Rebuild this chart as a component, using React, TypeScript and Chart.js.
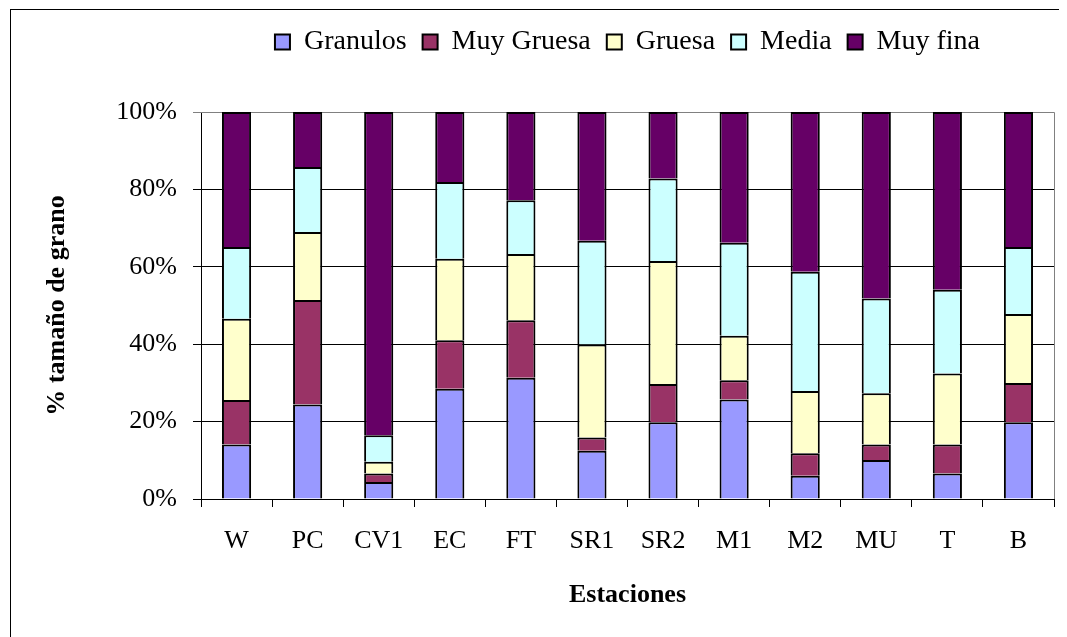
import React, { useEffect, useRef } from 'react';
import { Chart, registerables } from 'chart.js';

Chart.register(...registerables);

const categories = ['W', 'PC', 'CV1', 'EC', 'FT', 'SR1', 'SR2', 'M1', 'M2', 'MU', 'T', 'B'];
const granulos = [14.1, 24.4, 4.4, 28.5, 31.3, 12.5, 19.8, 25.7, 6.0, 10.1, 6.6, 19.8];
const muyGruesa = [11.5, 27.0, 2.2, 12.5, 14.9, 3.4, 9.9, 5.0, 5.8, 4.0, 7.5, 10.2];
const gruesa = [21.0, 17.6, 3.0, 21.1, 17.1, 24.0, 31.8, 11.5, 16.1, 13.2, 18.3, 17.8];
const media = [18.5, 16.8, 6.9, 19.8, 13.9, 26.8, 21.3, 24.0, 30.8, 24.5, 21.7, 17.3];
const muyFina = [34.9, 14.2, 83.5, 18.1, 22.8, 33.3, 17.2, 33.8, 41.3, 48.2, 45.9, 34.9];
const seriesNames = ['Granulos', 'Muy Gruesa', 'Gruesa', 'Media', 'Muy fina'];
const seriesValues = [granulos, muyGruesa, gruesa, media, muyFina];
const seriesColors = ['#9999FF', '#993366', '#FFFFCC', '#CCFFFF', '#660066'];
const yTicks = [0, 20, 40, 60, 80, 100];
const yTitle = '% tamaño de grano';
const xTitle = 'Estaciones';

const FONT = '"Liberation Serif", "Times New Roman", serif';

const framePlugin = {
  id: 'frame',
  beforeLayout(chart: any) {
    const lg = chart.legend;
    if (lg && !lg.__patched) {
      const orig = lg.fit.bind(lg);
      lg.fit = function () {
        orig();
        this.height = 100;
      };
      lg.__patched = true;
    }
  },
  beforeDraw(chart: any) {
    const { ctx, width, height } = chart;
    ctx.save();
    ctx.fillStyle = '#ffffff';
    ctx.fillRect(0, 0, width, height);
    ctx.strokeStyle = '#000000';
    ctx.lineWidth = 1;
    ctx.strokeRect(2.5, 1.5, width + 100, height + 100);
    ctx.restore();
  },
  beforeDatasetsDraw(chart: any) {
    const { ctx, chartArea } = chart;
    ctx.save();
    ctx.strokeStyle = '#808080';
    ctx.lineWidth = 1;
    ctx.beginPath();
    ctx.moveTo(chartArea.left, chartArea.top + 0.5);
    ctx.lineTo(chartArea.right + 0.5, chartArea.top + 0.5);
    ctx.lineTo(chartArea.right + 0.5, chartArea.bottom);
    ctx.stroke();
    ctx.restore();
  },
};

export default function App() {
  const ref = useRef<HTMLCanvasElement | null>(null);

  useEffect(() => {
    if (!ref.current) return;
    const chart = new Chart(ref.current, {
      type: 'bar',
      data: {
        labels: categories,
        datasets: seriesNames.map((name, i) => ({
          label: name,
          data: seriesValues[i],
          backgroundColor: seriesColors[i],
          borderColor: '#000000',
          borderWidth: 2,
          categoryPercentage: 1,
          barPercentage: 0.41,
        })),
      },
      options: {
        responsive: false,
        animation: false,
        devicePixelRatio: 1,
        layout: { padding: { top: 4, left: 0, right: 0, bottom: 0 } },
        plugins: {
          tooltip: { enabled: false },
          legend: {
            position: 'top',
            labels: {
              boxWidth: 15,
              boxHeight: 15,
              padding: 16,
              color: '#000',
              font: { family: FONT, size: 28 },
            },
          },
        },
        scales: {
          x: {
            stacked: true,
            grid: {
              drawOnChartArea: false,
              drawTicks: true,
              tickLength: 8,
              color: '#000',
              offset: true,
            },
            border: { color: '#000', width: 1 },
            ticks: {
              color: '#000',
              padding: 19,
              maxRotation: 0,
              font: { family: FONT, size: 26 },
            },
            title: {
              display: true,
              text: xTitle,
              color: '#000',
              font: { family: FONT, size: 26, weight: 'bold' },
              padding: { top: 0, bottom: 26 },
            },
            afterFit: (s: any) => {
              s.height = 138;
            },
          },
          y: {
            stacked: true,
            min: 0,
            max: 100,
            afterBuildTicks: (s: any) => {
              s.ticks = yTicks.map((v) => ({ value: v }));
            },
            grid: {
              color: (c: any) => (c.tick && c.tick.value === 100 ? '#808080' : '#000'),
              lineWidth: 1,
              tickLength: 8,
              drawTicks: true,
            },
            border: { color: '#000', width: 1 },
            ticks: {
              color: '#000',
              padding: 16,
              font: { family: FONT, size: 26 },
              callback: (v: any) => v + '%',
            },
            title: {
              display: true,
              text: yTitle,
              color: '#000',
              font: { family: FONT, size: 26, weight: 'bold' },
              padding: { top: 34, bottom: 0 },
            },
            afterFit: (s: any) => {
              s.width = 193;
              s.paddingRight = 193;
            },
          },
        },
      },
      plugins: [framePlugin],
    });
    return () => chart.destroy();
  }, []);

  return (
    <div style={{ width: 1059, height: 629, overflow: 'hidden' }}>
      <canvas ref={ref} width={1239} height={629} style={{ display: 'block' }} />
    </div>
  );
}
